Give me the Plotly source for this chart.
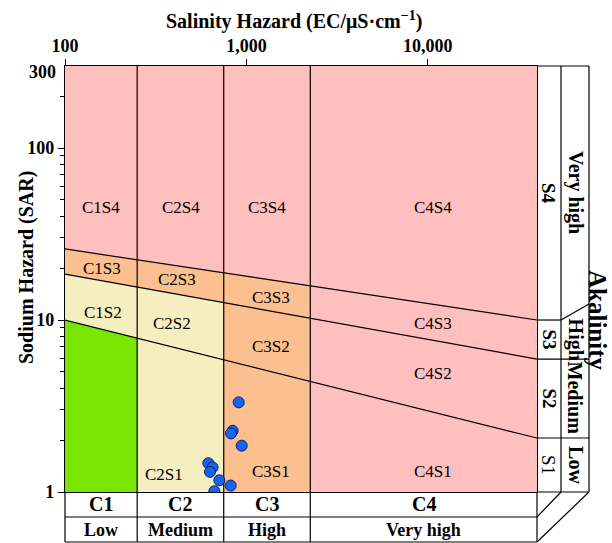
import numpy as np
import plotly.graph_objects as go

# ---------------- data ----------------
ec_samples = [907, 840, 823, 942, 617, 651, 630, 709, 819, 666]
sar_samples = [3.32, 2.27, 2.19, 1.86, 1.47, 1.39, 1.31, 1.17, 1.09, 1.01]

ec_bounds = [250, 750, 2250]          # C1/C2, C2/C3, C3/C4
ec_limits = [100, 40000]
sar_limits = [1, 300]
# boundary lines: SAR at EC=100 and at EC=40000 (straight in log-log)
s1_s2 = [10.0, 2.06]
s2_s3 = [18.5, 5.93]
s3_s4 = [25.9, 10.0]

region_labels = ["C1S4", "C2S4", "C3S4", "C4S4",
                 "C1S3", "C2S3", "C3S3", "C4S3",
                 "C1S2", "C2S2", "C3S2", "C4S2",
                 "C2S1", "C3S1", "C4S1"]
region_ec = [158, 437, 1306, 10660,
             160, 416, 1374, 10660,
             162, 390, 1374, 10660,
             352, 1374, 10660]
region_sar = [45.4, 45.4, 45.4, 45.4,
              20.0, 17.1, 13.6, 9.6,
              11.1, 9.6, 6.97, 4.92,
              1.26, 1.31, 1.32]

c_classes = ["C1", "C2", "C3", "C4"]
c_desc = ["Low", "Medium", "High", "Very high"]
s_classes = ["S1", "S2", "S3", "S4"]
s_desc = ["Low", "Medium", "High", "Very high"]

x_ticks = [100, 1000, 10000]
x_ticklabels = ["100", "1,000", "10,000"]
y_ticks = [1, 10, 100]
y_ticklabels = ["1", "10", "100"]
y_minor = [2, 3, 4, 5, 6, 7, 8, 9, 20, 30, 40, 50, 60, 70, 80, 90, 200]

# ---------------- styles ----------------
PINK = "#FFBFBF"
PEACH = "#FCBF8F"
YELLOW = "#F5EEC0"
GREEN = "#78E600"
FONT = "Liberation Serif"
W, H = 612, 543
L, R, T, B = 65, 75, 66, 51
PW, PH = W - L - R, H - T - B

lx0, lx1 = np.log10(ec_limits[0]), np.log10(ec_limits[1])
ly0, ly1 = np.log10(sar_limits[0]), np.log10(sar_limits[1])


def line_sar(line, ec):
    t = (np.log10(ec) - lx0) / (lx1 - lx0)
    v = np.log10(line[0]) + (np.log10(line[1]) - np.log10(line[0])) * t
    return 10 ** v


def xp(ec):  # data -> paper x
    return (np.log10(ec) - lx0) / (lx1 - lx0)


def yp(sar):  # data -> paper y
    return (np.log10(sar) - ly0) / (ly1 - ly0)


def pxx(px):  # pixel -> paper x
    return (px - L) / PW


def pxy(py):  # pixel -> paper y
    return (H - B - py) / PH


fig = go.Figure()


def poly(xs, ys, color):
    fig.add_trace(go.Scatter(x=xs, y=ys, fill="toself", fillcolor=color,
                             mode="lines", line=dict(width=0), hoverinfo="skip",
                             showlegend=False))


e0, e1 = ec_limits
s0, s1 = sar_limits
poly([e0, e1, e1, e0, e0], [s0, s0, s1, s1, s0], PINK)
eb = ec_bounds[2]
poly([e0, e0, eb, eb, e0], [s0, line_sar(s3_s4, e0), line_sar(s3_s4, eb), s0, s0], PEACH)
eb = ec_bounds[1]
poly([e0, e0, eb, eb, e0], [s0, line_sar(s2_s3, e0), line_sar(s2_s3, eb), s0, s0], YELLOW)
eb = ec_bounds[0]
poly([e0, e0, eb, eb, e0], [s0, line_sar(s1_s2, e0), line_sar(s1_s2, eb), s0, s0], GREEN)

for ln in (s1_s2, s2_s3, s3_s4):
    fig.add_trace(go.Scatter(x=ec_limits, y=ln, mode="lines",
                             line=dict(color="black", width=1.2),
                             hoverinfo="skip", showlegend=False))
for eb in ec_bounds:
    fig.add_trace(go.Scatter(x=[eb, eb], y=sar_limits, mode="lines",
                             line=dict(color="black", width=1.2),
                             hoverinfo="skip", showlegend=False))

fig.add_trace(go.Scatter(x=ec_samples, y=sar_samples, mode="markers",
                         marker=dict(size=11, color="#1466F0",
                                     line=dict(color="#0B1F66", width=1)),
                         showlegend=False))

annotations = []


def ann(x, y, text, size, angle=0, ref="paper", xa="center"):
    annotations.append(dict(x=x, y=y, xref=ref, yref=ref, text=text,
                            showarrow=False, textangle=angle,
                            xanchor=xa, yanchor="middle",
                            font=dict(family=FONT, size=size, color="black")))


for lab, ex, sy in zip(region_labels, region_ec, region_sar):
    annotations.append(dict(x=np.log10(ex), y=np.log10(sy), xref="x", yref="y",
                            text=lab, showarrow=False,
                            xanchor="center", yanchor="middle",
                            font=dict(family=FONT, size=17, color="black")))

shapes = []


def seg(x0, y0, x1, y1):
    shapes.append(dict(type="line", xref="paper", yref="paper",
                       x0=x0, y0=y0, x1=x1, y1=y1,
                       line=dict(color="black", width=1.2)))


# bottom class boxes
yb1, yb2 = pxy(517), pxy(542)
seg(0, yb1, 1, yb1)
seg(0, yb2, 1, yb2)
xs_b = [0] + [xp(e) for e in ec_bounds] + [1]
for xv in xs_b:
    seg(xv, 0, xv, yb2)
for i in range(4):
    xc = (xs_b[i] + xs_b[i + 1]) / 2
    ann(xc, (0 + yb1) / 2, "<b>%s</b>" % c_classes[i], 20)
    ann(xc, (yb1 + yb2) / 2, "<b>%s</b>" % c_desc[i], 18)

# right class boxes
xr1, xr2 = pxx(561), pxx(589)
seg(1, 1, xr2, 1)
seg(xr1, 0, xr1, 1)
seg(xr2, 0, xr2, 1)
ends = [yp(line_sar(ln, ec_limits[1])) for ln in (s1_s2, s2_s3, s3_s4)]
seg(1, ends[2], xr1, ends[2])
seg(xr1, ends[2], xr2, ends[2] + 16 / PH)
seg(1, ends[1], xr2, ends[1])
seg(1, ends[0], xr2, ends[0])
seg(1, 0, xr2, 0)
# 3D corner
seg(1, yb1, xr1, 0)
seg(1, yb2, xr2, 0)

ys_r = [0] + ends + [1]
for i in range(4):
    yc = (ys_r[i] + ys_r[i + 1]) / 2
    txt = s_classes[i] if i == 0 else "<b>%s</b>" % s_classes[i]
    ann((1 + xr1) / 2, yc, txt, 19, 90)
    ann((xr1 + xr2) / 2 + 0.002, yc, "<b>%s</b>" % s_desc[i], 20, 90)

ann(pxx(598), pxy(320), "<b>Akalinity</b>", 25, 90)
ann(pxx(294), pxy(20), "<b>Salinity Hazard (EC/μS·cm<sup>−1</sup>)</b>", 20)
ann(pxx(26), pxy(268), "<b>Sodium Hazard (SAR)</b>", 20, -90)
ann(pxx(58), pxy(72), "<b>300</b>", 18, 0, "paper", "right")

fig.update_layout(
    width=W, height=H,
    margin=dict(l=L, r=R, t=T, b=B, pad=0),
    paper_bgcolor="white", plot_bgcolor="white",
    showlegend=False,
    annotations=annotations, shapes=shapes,
    xaxis=dict(type="log", range=[lx0, lx1], side="top",
               tickvals=x_ticks, ticktext=["<b>%s</b>" % t for t in x_ticklabels],
               ticks="outside", ticklen=6, tickcolor="black",
               tickfont=dict(family=FONT, size=18, color="black"),
               showline=True, linecolor="black", linewidth=1.2, mirror=True,
               showgrid=False, zeroline=False),
    yaxis=dict(type="log", range=[ly0, ly1],
               tickvals=y_ticks, ticktext=["<b>%s</b>" % t for t in y_ticklabels],
               ticks="outside", ticklen=6, tickcolor="black",
               tickfont=dict(family=FONT, size=18, color="black"),
               minor=dict(tickvals=y_minor, ticks="outside", ticklen=4,
                          tickcolor="black", showgrid=False),
               showline=True, linecolor="black", linewidth=1.2, mirror=True,
               showgrid=False, zeroline=False),
)

fig.write_html("out.html")
